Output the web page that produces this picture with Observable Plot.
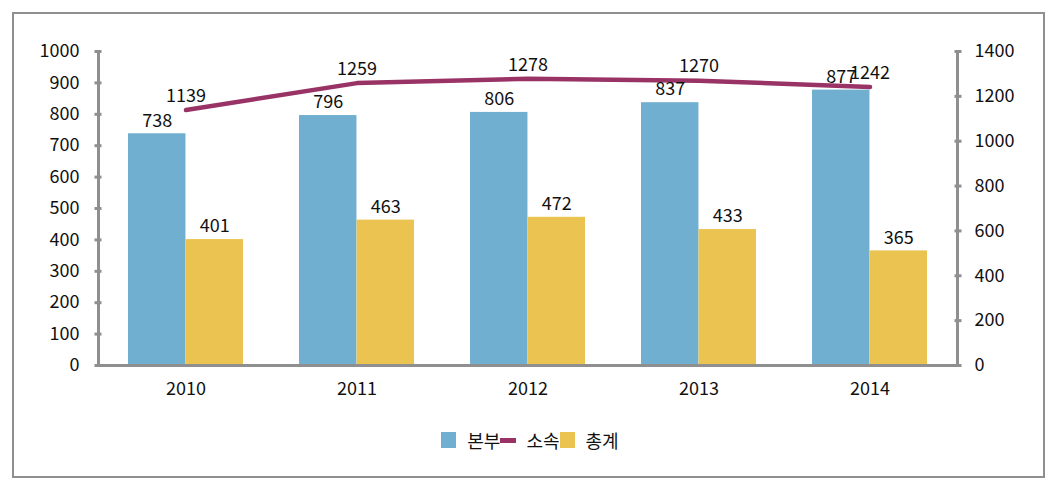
<!DOCTYPE html>
<html>
<head>
<meta charset="utf-8">
<script src="https://cdn.jsdelivr.net/npm/d3@7"></script>
<script src="https://cdn.jsdelivr.net/npm/@observablehq/plot@0.6"></script>
<style>
  html, body { margin: 0; padding: 0; background: #fff; }
  body { width: 1060px; height: 494px; position: relative; overflow: hidden;
         font-family: "Noto Sans CJK KR", "Liberation Sans", sans-serif; }
  #frame { position: absolute; left: 12px; top: 12px; width: 1029px; height: 462px;
           border: 2px solid #8f8f8f; }
  #chart { position: absolute; left: 0; top: 0; }
  #legend { position: absolute; left: 0; top: 427px; width: 1060px; display: flex;
            justify-content: center; align-items: center; font-size: 18px; color: #111; }
  .item { display: flex; align-items: center; }
  .sw { width: 15px; height: 16px; margin-right: 11px; }
  .ln { width: 16px; height: 5px; margin-right: 10px; }
</style>
</head>
<body>
<div id="frame"></div>
<div id="chart"></div>
<div id="legend"></div>
<script>
const years = ["2010", "2011", "2012", "2013", "2014"];
const bonbu = [738, 796, 806, 837, 877];      // 본부 (bars, left axis)
const sosok = [1139, 1259, 1278, 1270, 1242]; // 소속 (line, right axis)
const chonggye = [401, 463, 472, 433, 365];   // 총계 (bars, left axis)
const leftTicks = d3.range(0, 1001, 100);
const rightTicks = d3.range(0, 1401, 200);
const seriesNames = ["본부", "소속", "총계"];

const colors = { bonbu: "#71afd0", sosok: "#993366", chonggye: "#ebc351" };
const axisColor = "#8f8f8f";
const ratio = 1000 / 1400;

const data = years.map((y, i) => ({ year: y, bonbu: bonbu[i], sosok: sosok[i], chonggye: chonggye[i] }));

const W = 1060, H = 420, mL = 98, mR = 103, mT = 51, mB = 55;
const paddingInner = 0.33;
const step = (W - mL - mR) / years.length;
const bw = step * (1 - paddingInner);

const chart = Plot.plot({
  width: W, height: H,
  marginLeft: mL, marginRight: mR, marginTop: mT, marginBottom: mB,
  style: { fontFamily: '"Noto Sans CJK KR", "Liberation Sans", sans-serif', fontSize: "18px", color: "#111", background: "transparent" },
  x: { type: "band", domain: years, paddingInner, paddingOuter: paddingInner / 2, axis: null },
  y: { domain: [0, 1000], axis: null },
  marks: [
    Plot.barY(data, { x: "year", y: "bonbu", fill: colors.bonbu, insetRight: bw / 2 }),
    Plot.barY(data, { x: "year", y: "chonggye", fill: colors.chonggye, insetLeft: bw / 2 }),
    Plot.ruleY([0], { stroke: axisColor, strokeWidth: 3 }),
    Plot.frame({ anchor: "left", stroke: axisColor, strokeWidth: 3 }),
    Plot.frame({ anchor: "right", stroke: axisColor, strokeWidth: 3 }),
    // left axis ticks & labels
    Plot.axisY({ anchor: "left", ticks: leftTicks, tickSize: 7, dx: 3.5, tickFormat: () => "", stroke: axisColor, strokeWidth: 3, label: null }),
    Plot.axisY({ anchor: "left", ticks: leftTicks, tickSize: 0, tickPadding: 19, tickFormat: d => String(d), fontSize: 18, fill: "#111", label: null }),
    // right axis ticks & labels
    Plot.axisY({ anchor: "right", ticks: rightTicks.map(v => v * ratio), tickSize: 7, dx: -3.5, tickFormat: () => "", stroke: axisColor, strokeWidth: 3, label: null }),
    Plot.axisY({ anchor: "right", ticks: rightTicks.map(v => v * ratio), tickSize: 0, tickPadding: 17, tickFormat: d => String(Math.round(d / ratio)), fontSize: 18, fill: "#111", label: null }),
    // x axis labels
    Plot.axisX({ anchor: "bottom", tickSize: 0, tickPadding: 17, fontSize: 18, fill: "#111", label: null }),
    // line
    Plot.line(data, { x: "year", y: d => d.sosok * ratio, stroke: colors.sosok, strokeWidth: 4.5 }),
    // labels
    Plot.text(data, { x: "year", y: "bonbu", text: d => String(d.bonbu), dx: -bw / 4, dy: -13, fontSize: 18, fill: "#111" }),
    Plot.text(data, { x: "year", y: "chonggye", text: d => String(d.chonggye), dx: bw / 4, dy: -13, fontSize: 18, fill: "#111" }),
    Plot.text(data, { x: "year", y: d => d.sosok * ratio, text: d => String(d.sosok), dy: -14, fontSize: 18, fill: "#111" })
  ]
});
document.getElementById("chart").appendChild(chart);

const legend = document.getElementById("legend");
const legendItems = [
  { name: seriesNames[0], cls: "sw", color: colors.bonbu },
  { name: seriesNames[1], cls: "ln", color: colors.sosok },
  { name: seriesNames[2], cls: "sw", color: colors.chonggye }
];
for (const it of legendItems) {
  const el = document.createElement("div");
  el.className = "item";
  const sw = document.createElement("span");
  sw.className = it.cls;
  sw.style.background = it.color;
  const t = document.createElement("span");
  t.textContent = it.name;
  el.appendChild(sw); el.appendChild(t);
  legend.appendChild(el);
}
</script>
</body>
</html>
